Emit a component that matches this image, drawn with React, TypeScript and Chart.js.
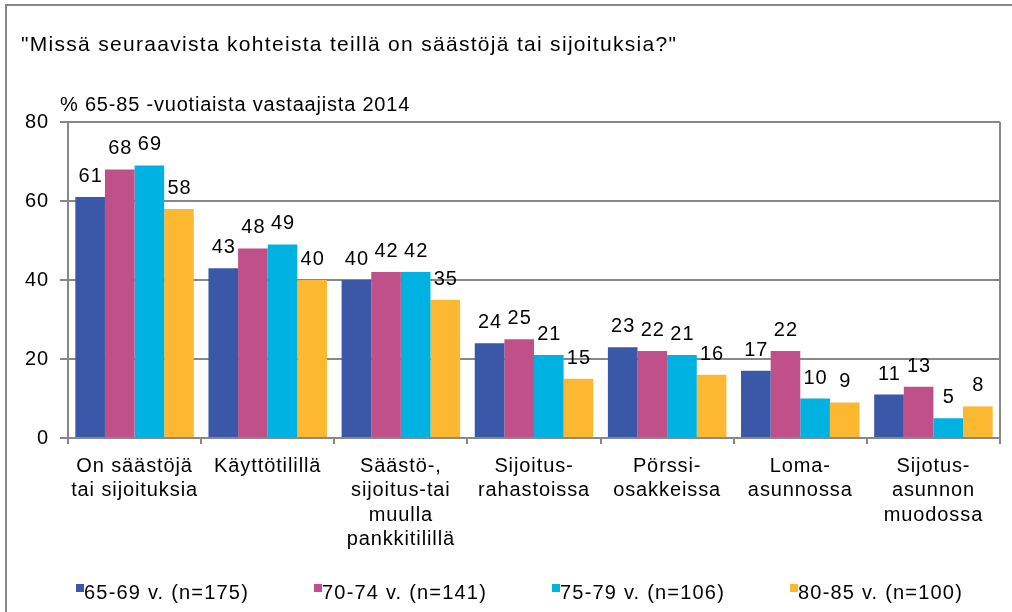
import React, { useEffect, useRef } from "react";
import { Chart, registerables } from "chart.js";

Chart.register(...registerables);

const TITLE = '"Missä seuraavista kohteista teillä on säästöjä tai sijoituksia?"';
const SUBTITLE = "% 65-85 -vuotiaista vastaajista 2014";

const categories: string[][] = [
  ["On säästöjä", "tai sijoituksia"],
  ["Käyttötilillä"],
  ["Säästö-,", "sijoitus-tai", "muulla", "pankkitilillä"],
  ["Sijoitus-", "rahastoissa"],
  ["Pörssi-", "osakkeissa"],
  ["Loma-", "asunnossa"],
  ["Sijotus-", "asunnon", "muodossa"],
];

const seriesNames = ["65-69 v. (n=175)", "70-74 v. (n=141)", "75-79 v. (n=106)", "80-85 v. (n=100)"];
const s6569 = [61, 43, 40, 24, 23, 17, 11];
const s7074 = [68, 48, 42, 25, 22, 22, 13];
const s7579 = [69, 49, 42, 21, 21, 10, 5];
const s8085 = [58, 40, 35, 15, 16, 9, 8];
const seriesColors = ["#3B57A7", "#C0508A", "#00B2E2", "#FDB832"];

const yTicks = [0, 20, 40, 60, 80];

const FONT = "'Liberation Sans', Arial, sans-serif";
const GRID = "#888888";

export default function App() {
  const ref = useRef<HTMLCanvasElement | null>(null);

  useEffect(() => {
    document.body.style.margin = "0";
    const canvas = ref.current;
    if (!canvas) return;

    const decorPlugin = {
      id: "decor",
      beforeDraw(chart: any) {
        const ctx = chart.ctx;
        ctx.save();
        ctx.fillStyle = "#ffffff";
        ctx.fillRect(0, 0, chart.width, chart.height);
        ctx.strokeStyle = GRID;
        ctx.lineWidth = 2;
        ctx.strokeRect(6, 5, chart.width + 20, chart.height + 20);
        ctx.fillStyle = "#000";
        ctx.textBaseline = "alphabetic";
        ctx.textAlign = "left";
        ctx.font = `21px ${FONT}`;
        ctx.letterSpacing = "1.3px";
        ctx.fillText(TITLE, 21, 51);
        ctx.font = `20px ${FONT}`;
        ctx.letterSpacing = "0.8px";
        ctx.fillText(SUBTITLE, 60, 111);
        ctx.restore();
        // spacing used by the axis labels drawn afterwards
        ctx.letterSpacing = "0.9px";
      },
      afterDraw(chart: any) {
        const ctx = chart.ctx;
        const area = chart.chartArea;
        ctx.save();
        ctx.strokeStyle = GRID;
        ctx.lineWidth = 2;
        ctx.beginPath();
        ctx.moveTo(area.right, area.top);
        ctx.lineTo(area.right, area.bottom);
        ctx.stroke();
        // data labels
        ctx.fillStyle = "#000";
        ctx.font = `20px ${FONT}`;
        ctx.letterSpacing = "1px";
        ctx.textAlign = "center";
        ctx.textBaseline = "alphabetic";
        chart.data.datasets.forEach((ds: any, di: number) => {
          const meta = chart.getDatasetMeta(di);
          meta.data.forEach((bar: any, i: number) => {
            ctx.fillText(String(ds.data[i]), bar.x + 0.5, bar.y - 15);
          });
        });
        // legend
        ctx.textAlign = "left";
        ctx.letterSpacing = "1.2px";
        const x0 = 76;
        const step = 238;
        seriesNames.forEach((name, i) => {
          const x = x0 + i * step;
          ctx.fillStyle = seriesColors[i];
          ctx.fillRect(x, 584, 8, 8);
          ctx.fillStyle = "#000";
          ctx.fillText(name, x + 8, 599);
        });
        ctx.restore();
      },
    };

    const chart = new Chart(canvas, {
      type: "bar",
      data: {
        labels: categories,
        datasets: [s6569, s7074, s7579, s8085].map((d, i) => ({
          label: seriesNames[i],
          data: d,
          backgroundColor: seriesColors[i],
          borderWidth: 0,
          barPercentage: 1,
          categoryPercentage: 0.89,
        })),
      },
      options: {
        animation: false,
        responsive: false,
        devicePixelRatio: 1,
        layout: { padding: { left: 0, top: 122, right: 12, bottom: 0 } },
        plugins: {
          legend: { display: false },
          title: { display: false },
          tooltip: { enabled: false },
        },
        scales: {
          x: {
            grid: {
              offset: true,
              drawOnChartArea: false,
              color: GRID,
              lineWidth: 2,
              tickLength: 6,
            },
            border: { color: GRID, width: 2 },
            ticks: {
              color: "#000",
              font: { family: FONT, size: 20, lineHeight: 1.22 },
              padding: 10,
              maxRotation: 0,
              autoSkip: false,
            },
            afterFit(scale: any) {
              scale.height = 174;
            },
          },
          y: {
            min: 0,
            max: 80,
            afterBuildTicks(scale: any) {
              scale.ticks = yTicks.map((v) => ({ value: v }));
            },
            grid: { color: GRID, lineWidth: 2, tickLength: 8 },
            border: { color: GRID, width: 2 },
            ticks: {
              color: "#000",
              font: { family: FONT, size: 20 },
              padding: 11,
            },
            afterFit(scale: any) {
              scale.width = 68;
            },
          },
        },
      },
      plugins: [decorPlugin],
    });

    return () => chart.destroy();
  }, []);

  return (
    <div style={{ width: 1012, height: 612 }}>
      <canvas ref={ref} width={1012} height={612} style={{ display: "block" }} />
    </div>
  );
}
